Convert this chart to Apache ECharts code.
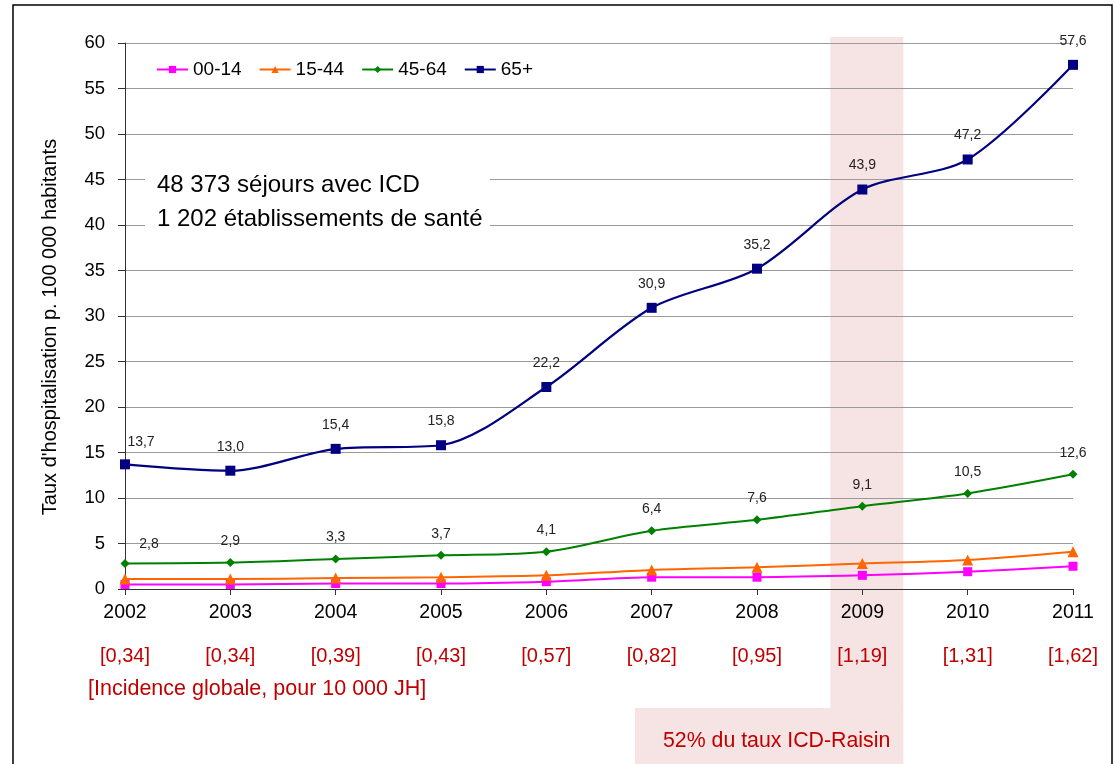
<!DOCTYPE html>
<html>
<head>
<meta charset="utf-8">
<script src="https://cdn.jsdelivr.net/npm/echarts@6/dist/echarts.min.js"></script>
<style>
html,body{margin:0;padding:0;background:#fff;}
#c{width:1115px;height:764px;}
</style>
</head>
<body>
<div id="c"></div>
<script>
const years = ['2002','2003','2004','2005','2006','2007','2008','2009','2010','2011'];
const incidence = ['[0,34]','[0,34]','[0,39]','[0,43]','[0,57]','[0,82]','[0,95]','[1,19]','[1,31]','[1,62]'];
const s0014 = [0.5, 0.5, 0.6, 0.6, 0.8, 1.3, 1.3, 1.5, 1.9, 2.5];
const s1544 = [1.1, 1.1, 1.2, 1.3, 1.5, 2.1, 2.4, 2.8, 3.2, 4.1];
const s4564 = [2.8, 2.9, 3.3, 3.7, 4.1, 6.4, 7.6, 9.1, 10.5, 12.6];
const s65 = [13.7, 13.0, 15.4, 15.8, 22.2, 30.9, 35.2, 43.9, 47.2, 57.6];
const yTicks = {min: 0, max: 60, interval: 5};

const SANS = '"Liberation Sans",Arial,sans-serif';

const fmt = v => v.toFixed(1).replace('.', ',');

function labelled(data, dx) {
  return data.map((v, i) => i === 0
    ? {value: v, label: {offset: [dx, 2]}}
    : v);
}

const chart = echarts.init(document.getElementById('c'), null, {renderer: 'canvas'});
const option = {
  backgroundColor: '#fff',
  animation: false,
  grid: {left: 125, right: 42, top: 43, bottom: 175},
  legend: {
    left: 151, top: 55, itemGap: 17, itemWidth: 31, itemHeight: 9,
    textStyle: {fontFamily: SANS, fontSize: 19, color: '#000'},
    data: ['00-14', '15-44', '45-64', '65+']
  },
  xAxis: [{
    type: 'category', data: years, boundaryGap: false,
    axisLine: {lineStyle: {color: '#333', width: 1}},
    axisTick: {alignWithLabel: true, lineStyle: {color: '#333'}, length: 6},
    axisLabel: {fontFamily: SANS, fontSize: 19.5, color: '#000', margin: 14},
    splitLine: {show: false}
  }, {
    type: 'category', data: incidence, boundaryGap: false, position: 'bottom', offset: 43,
    axisLine: {show: false}, axisTick: {show: false},
    axisLabel: {fontFamily: SANS, fontSize: 20, color: '#c00000', margin: 14},
    splitLine: {show: false}
  }],
  yAxis: {
    type: 'value', min: yTicks.min, max: yTicks.max, interval: yTicks.interval,
    axisLine: {show: true, lineStyle: {color: '#333'}},
    axisTick: {show: true, inside: false, length: 7, lineStyle: {color: '#333'}},
    axisLabel: {fontFamily: SANS, fontSize: 18.5, color: '#000', margin: 20},
    splitLine: {lineStyle: {color: '#9a9a9a', width: 1}}
  },
  series: [
    {name: '00-14', type: 'line', data: s0014, smooth: 0.3, symbol: 'rect', symbolSize: 9,
     lineStyle: {color: '#ff00ff', width: 2}, itemStyle: {color: '#ff00ff'}, z: 3},
    {name: '15-44', type: 'line', data: s1544, smooth: 0.3, symbol: 'triangle', symbolSize: 11,
     lineStyle: {color: '#ff6600', width: 2}, itemStyle: {color: '#ff6600'}, z: 3},
    {name: '45-64', type: 'line', data: labelled(s4564, 24), smooth: 0.3, symbol: 'diamond', symbolSize: 9,
     lineStyle: {color: '#008000', width: 2}, itemStyle: {color: '#008000'}, z: 4,
     label: {show: true, position: 'top', distance: 10, fontFamily: SANS, fontSize: 14, color: '#222',
             formatter: p => fmt(p.value)}},
    {name: '65+', type: 'line', data: labelled(s65, 16), smooth: 0.3, symbol: 'rect', symbolSize: 10,
     lineStyle: {color: '#000080', width: 2.2}, itemStyle: {color: '#000080'}, z: 5,
     label: {show: true, position: 'top', distance: 12, fontFamily: SANS, fontSize: 14, color: '#222',
             formatter: p => fmt(p.value)}}
  ]
};
chart.setOption(option);

const c2009 = chart.convertToPixel({xAxisIndex: 0}, '2009');
const bandL = c2009 - 32, bandR = c2009 + 41;
chart.setOption({
  graphic: [
    {type: 'rect', z: -10, silent: true, shape: {x: bandL, y: 37, width: bandR - bandL, height: 672},
     style: {fill: '#f6e3e3'}},
    {type: 'rect', z: -10, silent: true, shape: {x: 635, y: 708, width: bandR - 635, height: 60},
     style: {fill: '#f6e3e3'}},
    {type: 'text', z: 10, left: 663, top: 731,
     style: {text: '52% du taux ICD-Raisin', fill: '#c00000', font: '21.3px ' + SANS}},
    {type: 'text', z: 10, left: 88, top: 678,
     style: {text: '[Incidence globale, pour 10 000 JH]', fill: '#c00000', font: '21.5px ' + SANS}},
    {type: 'text', z: 10, x: 50, y: 327, rotation: Math.PI / 2,
     style: {text: "Taux d'hospitalisation p. 100 000 habitants", fill: '#000', font: '20px ' + SANS,
             textAlign: 'center', textVerticalAlign: 'middle'}},
    {type: 'rect', z: 1, silent: true, shape: {x: 145, y: 165, width: 345, height: 76},
     style: {fill: '#fff'}},
    {type: 'text', z: 10, left: 157, top: 173,
     style: {text: '48 373 séjours avec ICD', fill: '#000', font: '24px ' + SANS}},
    {type: 'text', z: 10, left: 157, top: 207,
     style: {text: '1 202 établissements de santé', fill: '#000', font: '24px ' + SANS}},
    {type: 'rect', z: 20, silent: true, shape: {x: 13, y: 5, width: 1099, height: 800},
     style: {fill: 'none', stroke: '#000', lineWidth: 1.5}}
  ]
});
</script>
</body>
</html>
